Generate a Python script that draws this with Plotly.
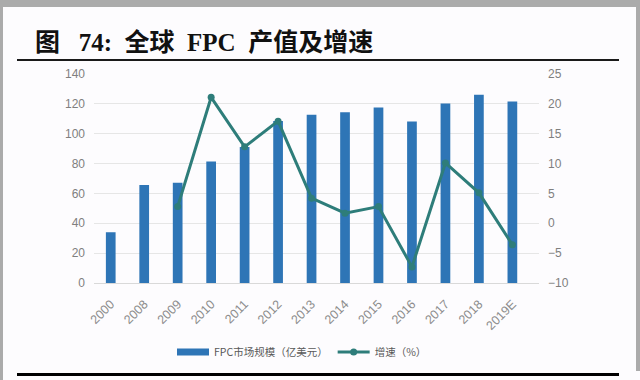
import plotly.graph_objects as go

years = ["2000", "2008", "2009", "2010", "2011", "2012", "2013", "2014", "2015", "2016", "2017", "2018", "2019E"]
market_size = [34, 65.6, 67.2, 81.4, 91.1, 108.5, 112.7, 114.3, 117.6, 108.2, 120.3, 126.1, 121.6]
growth_years = ["2009", "2010", "2011", "2012", "2013", "2014", "2015", "2016", "2017", "2018", "2019E"]
growth = [2.8, 21.1, 12.8, 17.1, 4.2, 1.7, 2.8, -7.3, 10.1, 5.1, -3.6]

BAR_NAME = "FPC市场规模（亿美元）"
LINE_NAME = "增速（%）"
TITLE = "图\u00a0\u00a0\u00a074:\u00a0\u00a0全球\u00a0\u00a0FPC\u00a0\u00a0产值及增速"
BAR_COLOR = "#2E75B6"
LINE_COLOR = "#2E7D7A"

W, H = 640, 380
L, R, T, B = 94, 101, 74, 97
PW, PH = W - L - R, H - T - B

def px(x):
    return (x - L) / PW

def py(y):
    return (H - B - y) / PH

fig = go.Figure()
fig.add_trace(go.Bar(
    x=years, y=market_size, name=BAR_NAME, showlegend=False,
    marker=dict(color=BAR_COLOR, line=dict(width=0)),
))
# legend entry styled as a wide bar swatch
fig.add_trace(go.Scatter(
    x=[None], y=[None], name=BAR_NAME, mode="lines",
    line=dict(color=BAR_COLOR, width=7),
))
fig.add_trace(go.Scatter(
    x=growth_years, y=growth, name=LINE_NAME, yaxis="y2",
    mode="lines+markers",
    line=dict(color=LINE_COLOR, width=3),
    marker=dict(color=LINE_COLOR, size=7),
))

shapes = [
    dict(type="rect", xref="paper", yref="paper", x0=px(3), x1=px(636), y0=py(7), y1=py(380),
         fillcolor="#FDFCFE", line=dict(width=0), layer="below"),
    dict(type="rect", xref="paper", yref="paper", x0=px(600), x1=px(640), y0=py(371), y1=py(380),
         fillcolor="#FDFCFE", line=dict(width=0), layer="below"),
    dict(type="line", xref="paper", yref="paper", x0=px(17), x1=px(619), y0=py(60), y1=py(60),
         line=dict(color="#1A1A1A", width=2), layer="above"),
    dict(type="line", xref="paper", yref="paper", x0=px(17), x1=px(619), y0=py(374.5), y1=py(374.5),
         line=dict(color="#000000", width=3), layer="above"),
]

fig.update_layout(
    template="none",
    width=W, height=H, autosize=False,
    margin=dict(l=L, r=R, t=T, b=B, pad=0, autoexpand=False),
    paper_bgcolor="#ABABAB", plot_bgcolor="rgba(0,0,0,0)",
    bargap=0.71,
    showlegend=True,
    legend=dict(orientation="h", x=px(302), xanchor="center", y=py(352), yanchor="middle",
                font=dict(family="Noto Sans CJK SC", size=10.5, color="#595959"),
                bgcolor="rgba(0,0,0,0)", tracegroupgap=0, itemwidth=32),
    font=dict(family="Liberation Sans, Noto Sans CJK SC", color="#7F7F7F"),
    xaxis=dict(type="category", categoryorder="array", categoryarray=years,
               tickangle=-45, tickfont=dict(size=12.5, color="#8C8C8C"),
               showgrid=False, showline=True, linecolor="#D9D9D9", linewidth=1,
               ticks="", automargin=False, zeroline=False, ticklabelstandoff=8),
    yaxis=dict(range=[0, 140], dtick=20, tick0=0, showgrid=True, gridcolor="#E6E6E6",
               gridwidth=1, zeroline=False, showline=False, automargin=False,
               tickfont=dict(size=12, color="#7F7F7F"), ticks="", ticklabelstandoff=8),
    yaxis2=dict(range=[-10, 25], dtick=5, tick0=-10, overlaying="y", side="right",
                showgrid=False, zeroline=False, showline=False, automargin=False,
                tickfont=dict(size=12, color="#7F7F7F"), ticks="", ticklabelstandoff=8),
    shapes=shapes,
    annotations=[dict(
        text="<b>" + TITLE + "</b>", xref="paper", yref="paper",
        x=px(33), y=py(42), xanchor="left", yanchor="middle", showarrow=False,
        font=dict(family="Liberation Serif, Noto Sans CJK SC", size=25, color="#111111"),
    )],
)

fig.write_html(
    "out.html",
    config={"displayModeBar": False, "responsive": False},
    post_script="document.documentElement.style.overflow='hidden';document.body.style.margin='0';document.body.style.padding='0';document.body.style.overflow='hidden';",
)
